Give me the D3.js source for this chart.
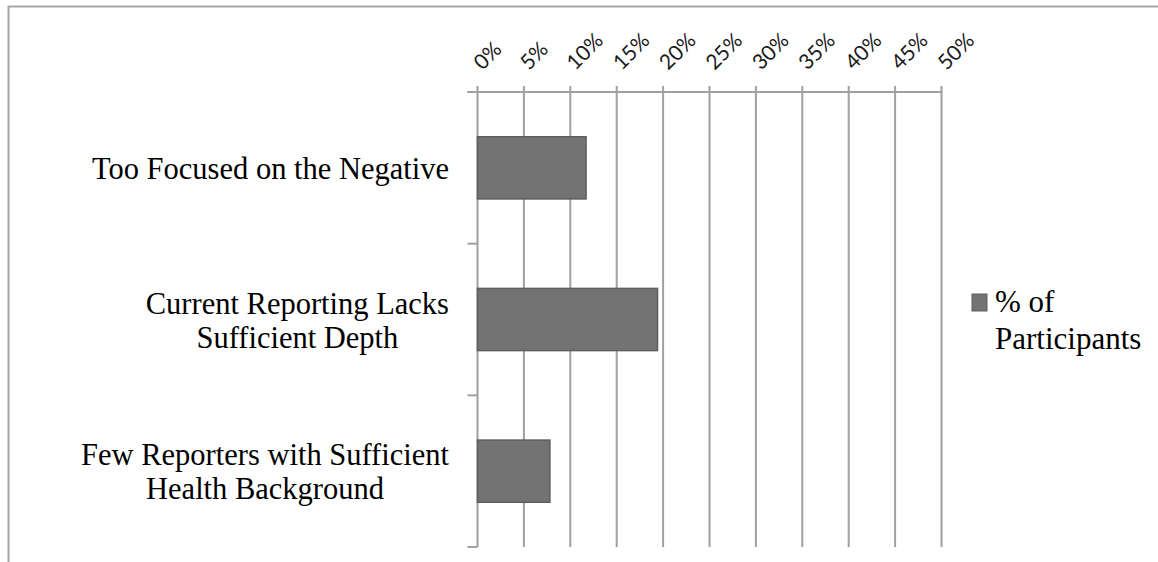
<!DOCTYPE html>
<html><head><meta charset="utf-8">
<script src="https://cdn.jsdelivr.net/npm/d3@7"></script>
<style>body{margin:0;background:#fff}svg{display:block}</style>
</head><body>
<svg id="c" width="1158" height="562"></svg>
<script>
const categories = [
  ["Too Focused on the Negative"],
  ["Current Reporting Lacks", "Sufficient Depth"],
  ["Few Reporters with Sufficient", "Health Background"]
];
const values = [11.7, 19.4, 7.8];
const tickValues = [0,5,10,15,20,25,30,35,40,45,50];
const seriesName = ["% of", "Participants"];

(function(){
const svg = d3.select("#c");
svg.append("rect").attr("width",1158).attr("height",562).attr("fill","#fff");
// outer border (left & top)
svg.append("path").attr("d","M8.5,562V6.5H1158").attr("fill","none").attr("stroke","#a6a6a6").attr("stroke-width",2);

const pl = 477.5, pr = 941.5, pt = 92, pb = 547;
const x = d3.scaleLinear().domain([0,50]).range([pl,pr]);
const keys = categories.map(c=>c.join(" "));
const y = d3.scaleBand().domain(keys).range([pt,pb]).padding(0);
const barFrac = 0.41;
const gridColor = "#a0a0a0";
const serif = "'Liberation Serif','Times New Roman',serif";

// gridlines
svg.append("g").selectAll("line").data(tickValues.slice(1)).join("line")
  .attr("x1",d=>x(d)).attr("x2",d=>x(d)).attr("y1",pt-6).attr("y2",pb)
  .attr("stroke",gridColor).attr("stroke-width",2);

// top axis line
svg.append("line").attr("x1",pl-10).attr("x2",pr+1).attr("y1",pt).attr("y2",pt)
  .attr("stroke",gridColor).attr("stroke-width",2);
// vertical axis line
svg.append("line").attr("x1",pl).attr("x2",pl).attr("y1",pt-6).attr("y2",pb)
  .attr("stroke",gridColor).attr("stroke-width",2);
// category ticks
const catTicks = keys.map(k=>y(k)).concat([pb]);
svg.append("g").selectAll("line").data(catTicks).join("line")
  .attr("x1",pl-10).attr("x2",pl).attr("y1",d=>d).attr("y2",d=>d)
  .attr("stroke",gridColor).attr("stroke-width",2);

// tick labels
svg.append("g").selectAll("text").data(tickValues).join("text")
  .attr("transform",d=>`translate(${x(d)+5},${pt-21}) rotate(-45)`)
  .attr("font-family","Lato, 'Open Sans', sans-serif").attr("font-size",21)
  .attr("fill","#1a1a1a").text(d=>d+"%");

// bars
svg.append("g").selectAll("rect").data(values).join("rect")
  .attr("x",x(0)).attr("y",(d,i)=>y(keys[i])+y.bandwidth()*(1-barFrac)/2)
  .attr("width",d=>x(d)-x(0)).attr("height",y.bandwidth()*barFrac)
  .attr("fill","#737373").attr("stroke","#5e5e5e").attr("stroke-width",1.5);

// category labels (one text element per category, lines as tspans)
const labelRight = 449;
categories.forEach((lines,i)=>{
  const cy = y(keys[i]) + y.bandwidth()/2;
  const lh = 34;
  const t = svg.append("text")
    .attr("font-family",serif).attr("font-size",30.5)
    .attr("fill","#000").attr("text-anchor","middle");
  const ts = t.selectAll("tspan").data(lines).join("tspan")
    .attr("y",(d,j)=>cy + (j-(lines.length-1)/2)*lh + 11).text(d=>d);
  let maxW = 0; ts.each(function(){maxW=Math.max(maxW,this.getComputedTextLength());});
  ts.attr("x",labelRight - maxW/2);
});

// legend
svg.append("rect").attr("x",972).attr("y",294).attr("width",15).attr("height",17)
  .attr("fill","#737373").attr("stroke","#5e5e5e").attr("stroke-width",1);
svg.append("text").attr("font-family",serif).attr("font-size",31).attr("fill","#000")
  .selectAll("tspan").data(seriesName).join("tspan")
  .attr("x",995).attr("y",(d,i)=>312+i*37).text(d=>d);
})();
</script>
</body></html>
